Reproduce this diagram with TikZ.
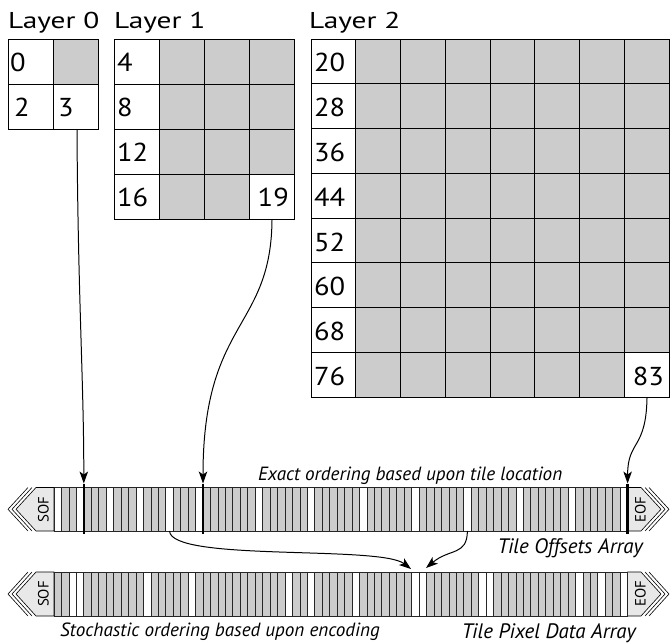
\documentclass[tikz,border=0pt]{standalone}
\usepackage{fontspec}
\setmainfont{PT Sans}
\newfontfamily\lblfont{PT Sans}[FakeStretch=1.28]
\newfontfamily\numfont{PT Sans}[FakeStretch=1.1]
\usetikzlibrary{arrows.meta}
\definecolor{cellgray}{gray}{0.8}
\definecolor{endgray}{gray}{0.91}
\tikzset{
  tile/.style={draw=black, line width=0.9pt},
  barcell/.style={draw=black!85, line width=0.6pt},
  num/.style={font=\numfont\fontsize{26}{26}\selectfont, inner sep=0pt},
  lbl/.style={font=\lblfont\fontsize{23}{23}\selectfont, inner sep=0pt, anchor=base west},
  captxt/.style={font=\itshape\fontsize{21}{21}\selectfont, inner sep=0pt},
  smallcap/.style={font=\itshape\fontsize{19.2}{19.2}\selectfont, inner sep=0pt},
  endtxt/.style={font=\fontsize{15}{15}\selectfont, inner sep=0pt, rotate=90},
  conn/.style={line width=1pt, -{Stealth[length=12pt,width=8.5pt,inset=3pt]}},
  marker/.style={line width=2.4pt},
  endbox/.style={draw=black, line width=0.6pt, fill=endgray},
  chev/.style={draw=black, line width=0.6pt},
}
\begin{document}
\begin{tikzpicture}[x=1bp,y=-1bp]
\useasboundingbox[fill=white] (0,0) rectangle (672,643);

% ---------- Layer labels
\node[lbl] (L0) at (8,29) {Layer 0};
\node[lbl] (L1) at (114,29) {Layer 1};
\node[lbl] (L2) at (309,29) {Layer 2};

% ---------- Layer 0 (2x2, size 45)
\foreach \c in {0,1} \foreach \r in {0,1}
  \path[tile, fill=white] ({8+45*\c},{39+45*\r}) rectangle +(45,45);
\path[tile, fill=cellgray] (53,39) rectangle +(45,45);

% ---------- Layer 1 (4x4, size 45)
\foreach \c in {0,...,3} \foreach \r in {0,...,3}
  \path[tile, fill=cellgray] ({114+45*\c},{39+45*\r}) rectangle +(45,45);
\foreach \r in {0,...,3}
  \path[tile, fill=white] (114,{39+45*\r}) rectangle +(45,45);
\path[tile, fill=white] (249,174) rectangle +(45,45);

% ---------- Layer 2 (8x8, size 44.75)
\foreach \c in {0,...,7} \foreach \r in {0,...,7}
  \path[tile, fill=cellgray] ({311+44.75*\c},{39+44.75*\r}) rectangle +(44.75,44.75);
\foreach \r in {0,...,7}
  \path[tile, fill=white] (311,{39+44.75*\r}) rectangle +(44.75,44.75);
\path[tile, fill=white] (624.25,352.25) rectangle +(44.75,44.75);

% ---------- numbers
\node[num, anchor=base west] (n0) at (10,72) {0};
\node[num, anchor=base west] (n2) at (14,117) {2};
\node[num, anchor=base west] (n3) at (58,117) {3};
\node[num, anchor=base west] (n4) at (117,72) {4};
\node[num, anchor=base west] (n8) at (117,117) {8};
\node[num, anchor=base west] (n12) at (117,162) {12};
\node[num, anchor=base west] (n16) at (117,206) {16};
\node[num, anchor=base east] (n19) at (289,206) {19};
\foreach \v [count=\k from 0] in {20,28,36,44,52,60,68,76}
  \node[num, anchor=base west] (n\v) at (314,{39+44.75*\k+33}) {\v};
\node[num, anchor=base east] (n83) at (664,385.5) {83};

% ---------- Tile Offsets Array (top bar)
\def\w{7.449}
\foreach \i in {0,...,76}
  \path[barcell, fill=cellgray] ({54+\w*\i},487.5) rectangle +(\w,43.5);
\foreach \i in {0,3,7,11,15,19,27,34,41,48,55,62,69,76}
  \path[barcell, fill=white] ({54+\w*\i},487.5) rectangle +(\w,43.5);
\path[endbox] (54,487.5) -- (36,487.5) -- (16,509.25) -- (36,531) -- (54,531) -- cycle;
\path[chev] (32,487.5) -- (12,509.25) -- (32,531);
\path[chev] (28,487.5) -- (8,509.25) -- (28,531);
\node[endtxt] (sof1) at (43.5,509.25) {SOF};
\path[endbox] (627.6,487.5) -- (641,487.5) -- (661,509.25) -- (641,531) -- (627.6,531) -- cycle;
\path[chev] (645,487.5) -- (665,509.25) -- (645,531);
\path[chev] (649,487.5) -- (669,509.25) -- (649,531);
\node[endtxt] (eof1) at (640.5,509.25) {EOF};

% ---------- Tile Pixel Data Array (bottom bar)
\foreach \i in {0,...,76}
  \path[barcell, fill=cellgray] ({54+\w*\i},572) rectangle +(\w,44);
\foreach \i in {2,3,12,18,31,34,40,48,49,57,58,70,73,76}
  \path[barcell, fill=white] ({54+\w*\i},572) rectangle +(\w,44);
\path[endbox] (54,572) -- (36,572) -- (16,594) -- (36,616) -- (54,616) -- cycle;
\path[chev] (32,572) -- (12,594) -- (32,616);
\path[chev] (28,572) -- (8,594) -- (28,616);
\node[endtxt] (sof2) at (43.5,594) {SOF};
\path[endbox] (627.6,572) -- (641,572) -- (661,594) -- (641,616) -- (627.6,616) -- cycle;
\path[chev] (645,572) -- (665,594) -- (645,616);
\path[chev] (649,572) -- (669,594) -- (649,616);
\node[endtxt] (eof2) at (640.5,594) {EOF};

% ---------- markers
\coordinate (m3) at (83.8,483.5);   \coordinate (m3b) at (83.8,533.5);
\coordinate (m19) at (203,483.5);   \coordinate (m19b) at (203,533.5);
\coordinate (m83) at (627.6,483.5); \coordinate (m83b) at (627.6,533.5);
\draw[marker] (m3) -- (m3b);
\draw[marker] (m19) -- (m19b);
\draw[marker] (m83) -- (m83b);

% ---------- connectors
\coordinate (t3) at (77,130);
\coordinate (t19) at (272,220);
\coordinate (t83) at (647,398);
\draw[conn] (t3) .. controls (78,300) and (83.8,380) .. (m3);
\draw[conn] (t19) .. controls (271,330) and (203,320) .. (m19);
\draw[conn] (t83) .. controls (646,450) and (627.6,440) .. (m83);

\coordinate (s15) at (169.5,531);
\coordinate (s55) at (467.4,531);
\coordinate (e48) at (411,569);
\coordinate (e49) at (426,568);
\draw[conn] (s15) .. controls (171,562) and (380,545) .. (e48);
\draw[conn] (s55) .. controls (467,556) and (450,548) .. (e49);

% ---------- captions
\node[smallcap, anchor=base west] (exact) at (258,480) {Exact ordering based upon tile location};
\node[captxt, anchor=base east] (toa) at (643,553) {Tile Offsets Array};
\node[smallcap, anchor=base west] (soe) at (60,636) {Stochastic ordering based upon encoding};
\node[captxt, anchor=base east] (tpd) at (636,638) {Tile Pixel Data Array};
\end{tikzpicture}
\end{document}
